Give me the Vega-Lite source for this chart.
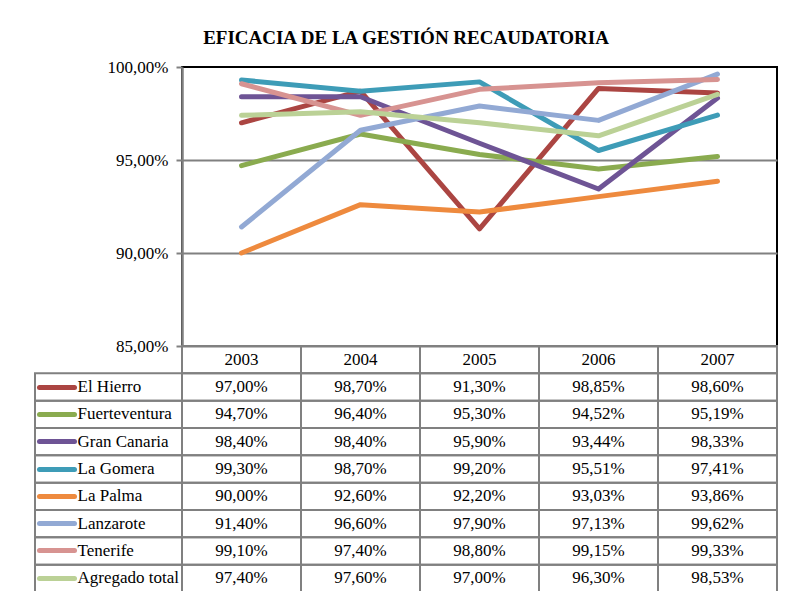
{
  "$schema": "https://vega.github.io/schema/vega-lite/v6.json",
  "background": "white",
  "padding": {"left": 34, "top": 29, "right": 8, "bottom": 0},
  "title": {"text": "EFICACIA DE LA GESTIÓN RECAUDATORIA", "font": "Liberation Serif", "fontSize": 19, "fontWeight": "bold", "color": "black", "anchor": "middle", "offset": 9},
  "datasets": {
    "d": [
      {"serie": "El Hierro", "anio": "2003", "valor": 0.97},
      {"serie": "El Hierro", "anio": "2004", "valor": 0.987},
      {"serie": "El Hierro", "anio": "2005", "valor": 0.913},
      {"serie": "El Hierro", "anio": "2006", "valor": 0.9885},
      {"serie": "El Hierro", "anio": "2007", "valor": 0.986},
      {"serie": "Fuerteventura", "anio": "2003", "valor": 0.947},
      {"serie": "Fuerteventura", "anio": "2004", "valor": 0.964},
      {"serie": "Fuerteventura", "anio": "2005", "valor": 0.953},
      {"serie": "Fuerteventura", "anio": "2006", "valor": 0.9452},
      {"serie": "Fuerteventura", "anio": "2007", "valor": 0.9519},
      {"serie": "Gran Canaria", "anio": "2003", "valor": 0.984},
      {"serie": "Gran Canaria", "anio": "2004", "valor": 0.984},
      {"serie": "Gran Canaria", "anio": "2005", "valor": 0.959},
      {"serie": "Gran Canaria", "anio": "2006", "valor": 0.9344},
      {"serie": "Gran Canaria", "anio": "2007", "valor": 0.9833},
      {"serie": "La Gomera", "anio": "2003", "valor": 0.993},
      {"serie": "La Gomera", "anio": "2004", "valor": 0.987},
      {"serie": "La Gomera", "anio": "2005", "valor": 0.992},
      {"serie": "La Gomera", "anio": "2006", "valor": 0.9551},
      {"serie": "La Gomera", "anio": "2007", "valor": 0.9741},
      {"serie": "La Palma", "anio": "2003", "valor": 0.90},
      {"serie": "La Palma", "anio": "2004", "valor": 0.926},
      {"serie": "La Palma", "anio": "2005", "valor": 0.922},
      {"serie": "La Palma", "anio": "2006", "valor": 0.9303},
      {"serie": "La Palma", "anio": "2007", "valor": 0.9386},
      {"serie": "Lanzarote", "anio": "2003", "valor": 0.914},
      {"serie": "Lanzarote", "anio": "2004", "valor": 0.966},
      {"serie": "Lanzarote", "anio": "2005", "valor": 0.979},
      {"serie": "Lanzarote", "anio": "2006", "valor": 0.9713},
      {"serie": "Lanzarote", "anio": "2007", "valor": 0.9962},
      {"serie": "Tenerife", "anio": "2003", "valor": 0.991},
      {"serie": "Tenerife", "anio": "2004", "valor": 0.974},
      {"serie": "Tenerife", "anio": "2005", "valor": 0.988},
      {"serie": "Tenerife", "anio": "2006", "valor": 0.9915},
      {"serie": "Tenerife", "anio": "2007", "valor": 0.9933},
      {"serie": "Agregado total", "anio": "2003", "valor": 0.974},
      {"serie": "Agregado total", "anio": "2004", "valor": 0.976},
      {"serie": "Agregado total", "anio": "2005", "valor": 0.97},
      {"serie": "Agregado total", "anio": "2006", "valor": 0.963},
      {"serie": "Agregado total", "anio": "2007", "valor": 0.9853}
    ],
    "series": [
      {"serie": "El Hierro"}, {"serie": "Fuerteventura"}, {"serie": "Gran Canaria"}, {"serie": "La Gomera"},
      {"serie": "La Palma"}, {"serie": "Lanzarote"}, {"serie": "Tenerife"}, {"serie": "Agregado total"}
    ],
    "years": [
      {"anio": "2003", "serie": "Año"}, {"anio": "2004", "serie": "Año"}, {"anio": "2005", "serie": "Año"},
      {"anio": "2006", "serie": "Año"}, {"anio": "2007", "serie": "Año"}
    ]
  },
  "columns": 2,
  "spacing": 0,
  "bounds": "flush",
  "concat": [
    {
      "width": 147, "height": 279,
      "data": {"values": []},
      "mark": "point",
      "encoding": {}
    },
    {
      "width": 595, "height": 279,
      "data": {"name": "d"},
      "view": {"stroke": "black", "strokeWidth": 2},
      "mark": {"type": "line", "strokeWidth": 5, "strokeJoin": "round", "strokeCap": "round"},
      "encoding": {
        "x": {"field": "anio", "type": "ordinal", "scale": {"type": "point", "padding": 0.5, "domain": ["2003", "2004", "2005", "2006", "2007"]}, "axis": null},
        "y": {"field": "valor", "type": "quantitative",
          "scale": {"domain": [0.85, 1], "nice": false, "zero": false},
          "axis": {"values": [0.85, 0.9, 0.95, 1], "format": ".2%", "title": null, "grid": true, "gridColor": "#808080", "gridWidth": 2,
            "gridOpacity": {"condition": {"test": "datum.value >= 0.999", "value": 0}, "value": 1},
            "domainColor": "#808080", "domainWidth": 2.5, "tickColor": "#808080", "tickSize": 6, "tickWidth": 2,
            "labelFont": "Liberation Serif", "labelFontSize": 17, "labelColor": "black", "labelPadding": 8}},
        "color": {"field": "serie", "type": "nominal",
          "scale": {"domain": ["El Hierro", "Fuerteventura", "Gran Canaria", "La Gomera", "La Palma", "Lanzarote", "Tenerife", "Agregado total"],
                    "range": ["#AB4542", "#8AAB4F", "#6E5495", "#3E9CB7", "#EE8A3E", "#92A9D4", "#D79391", "#BBD196"]},
          "legend": null}
      }
    },
    {
      "width": 147, "height": 246,
      "data": {"name": "series"},
      "mark": {"type": "rect", "fill": "transparent", "stroke": "#808080", "strokeWidth": 2},
      "encoding": {
        "y": {"field": "serie", "type": "nominal",
          "scale": {"type": "band", "domain": ["Año", "El Hierro", "Fuerteventura", "Gran Canaria", "La Gomera", "La Palma", "Lanzarote", "Tenerife", "Agregado total"], "paddingInner": 0, "paddingOuter": 0},
          "axis": {"orient": "left", "offset": -39, "domain": false, "title": null, "zindex": 1,
            "tickSize": 35, "tickWidth": 5, "tickCap": "round",
            "tickColor": {"condition": [
              {"test": "datum.value === 'El Hierro'", "value": "#AB4542"},
              {"test": "datum.value === 'Fuerteventura'", "value": "#8AAB4F"},
              {"test": "datum.value === 'Gran Canaria'", "value": "#6E5495"},
              {"test": "datum.value === 'La Gomera'", "value": "#3E9CB7"},
              {"test": "datum.value === 'La Palma'", "value": "#EE8A3E"},
              {"test": "datum.value === 'Lanzarote'", "value": "#92A9D4"},
              {"test": "datum.value === 'Tenerife'", "value": "#D79391"},
              {"test": "datum.value === 'Agregado total'", "value": "#BBD196"}
            ], "value": "transparent"},
            "labelAlign": "left", "labelPadding": -38, "labelFont": "Liberation Serif", "labelFontSize": 17, "labelColor": "black",
            "labelExpr": "datum.value === 'Año' ? '' : datum.value"}}
      }
    },
    {
      "width": 595, "height": 246,
      "encoding": {
        "x": {"field": "anio", "type": "ordinal", "scale": {"type": "band", "domain": ["2003", "2004", "2005", "2006", "2007"], "paddingInner": 0, "paddingOuter": 0}, "axis": null},
        "y": {"field": "serie", "type": "nominal",
          "scale": {"type": "band", "domain": ["Año", "El Hierro", "Fuerteventura", "Gran Canaria", "La Gomera", "La Palma", "Lanzarote", "Tenerife", "Agregado total"], "paddingInner": 0, "paddingOuter": 0},
          "axis": null}
      },
      "layer": [
        {"data": {"name": "d"}, "mark": {"type": "rect", "fill": "transparent", "stroke": "#808080", "strokeWidth": 2}},
        {"data": {"name": "years"}, "mark": {"type": "rect", "fill": "transparent", "stroke": "#808080", "strokeWidth": 2}},
        {"data": {"name": "d"}, "mark": {"type": "text", "font": "Liberation Serif", "fontSize": 17, "color": "black"},
          "encoding": {"text": {"field": "valor", "type": "quantitative", "format": ".2%"}}},
        {"data": {"name": "years"}, "mark": {"type": "text", "font": "Liberation Serif", "fontSize": 17, "color": "black"},
          "encoding": {"text": {"field": "anio", "type": "nominal"}}}
      ]
    }
  ],
  "config": {
    "view": {"stroke": null},
    "font": "Liberation Serif",
    "locale": {"number": {"decimal": ",", "thousands": ".", "grouping": [3], "currency": ["", " €"]}}
  }
}
